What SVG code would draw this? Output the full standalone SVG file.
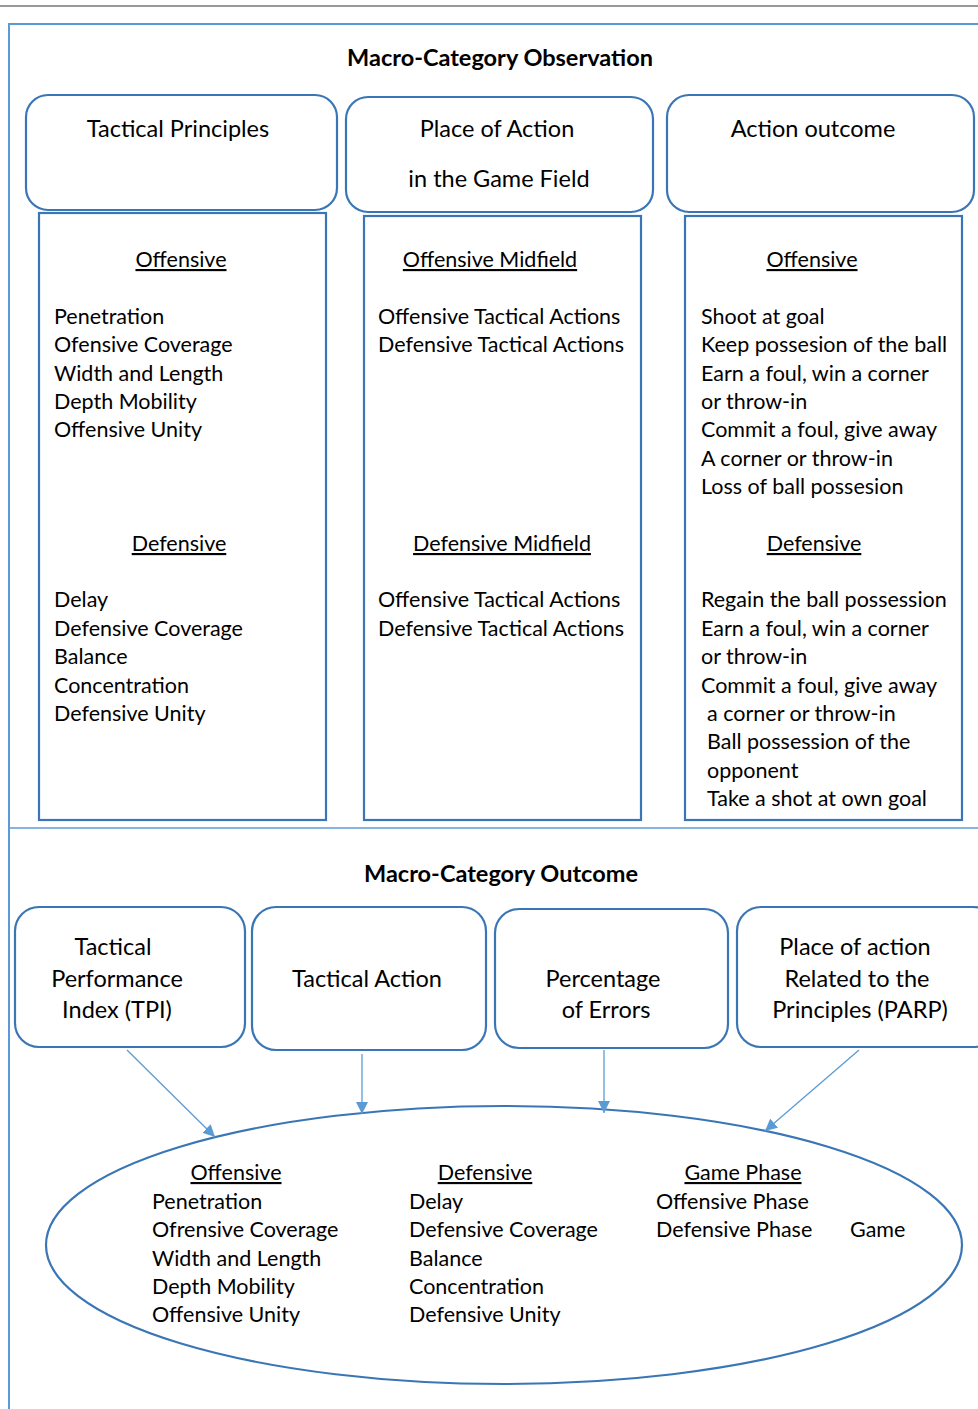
<svg xmlns="http://www.w3.org/2000/svg" width="978" height="1409" viewBox="0 0 978 1409">
<style>
.t{font-family:Lato,"Carlito","Liberation Sans",sans-serif;font-size:21.5px;fill:#000}
.h{font-family:Lato,"Carlito","Liberation Sans",sans-serif;font-size:23.5px;fill:#000}
.b{font-family:Lato,"Carlito","Liberation Sans",sans-serif;font-size:23.5px;font-weight:bold;fill:#000}
.u{text-decoration:underline}
.rb{fill:#fff;stroke:#3A76B5;stroke-width:2.2}
.frame{fill:none;stroke:#5B9BD5;stroke-width:2}
.conn{stroke:#5B9BD5;stroke-width:1.3;fill:none}
</style>
<defs>
<marker id="ah" viewBox="0 0 10 10" refX="10" refY="5" markerWidth="12" markerHeight="12" markerUnits="userSpaceOnUse" orient="auto">
<path d="M0,0 L10,5 L0,10 z" fill="#5B9BD5"/>
</marker>
</defs>
<rect width="978" height="1409" fill="#fff"/>
<line x1="0" y1="6" x2="978" y2="6" stroke="#333" stroke-width="1"/>
<path class="frame" d="M978,24 H9 V1409"/>
<line x1="9" y1="828" x2="978" y2="828" stroke="#5B9BD5" stroke-width="1.3"/>

<text class="b" x="500" y="66" text-anchor="middle">Macro-Category Observation</text>
<text class="b" x="501" y="882" text-anchor="middle">Macro-Category Outcome</text>

<g id="tactical-principles">
<rect class="rb" x="26" y="95" width="311" height="115" rx="22"/>
<text class="h" x="178" y="137" text-anchor="middle">Tactical Principles</text>
</g>
<g id="place-of-action">
<rect class="rb" x="346" y="97" width="307" height="115" rx="22"/>
<text class="h" x="497" y="137" text-anchor="middle">Place of Action</text>
<text class="h" x="499" y="187" text-anchor="middle">in the Game Field</text>
</g>
<g id="action-outcome">
<rect class="rb" x="667" y="95" width="307" height="117" rx="22"/>
<text class="h" x="813" y="137" text-anchor="middle">Action outcome</text>
</g>

<g id="principles-list">
<rect class="rb" x="39" y="213" width="287" height="607"/>
<text class="t u" x="181" y="267" text-anchor="middle">Offensive</text>
<text class="t" x="54" y="324">Penetration</text>
<text class="t" x="54" y="352">Ofensive Coverage</text>
<text class="t" x="54" y="381">Width and Length</text>
<text class="t" x="54" y="409">Depth Mobility</text>
<text class="t" x="54" y="437">Offensive Unity</text>
<text class="t u" x="179" y="551" text-anchor="middle">Defensive</text>
<text class="t" x="54" y="607">Delay</text>
<text class="t" x="54" y="636">Defensive Coverage</text>
<text class="t" x="54" y="664">Balance</text>
<text class="t" x="54" y="693">Concentration</text>
<text class="t" x="54" y="721">Defensive Unity</text>
</g>

<g id="place-list">
<rect class="rb" x="364" y="216" width="277" height="604"/>
<text class="t u" x="490" y="267" text-anchor="middle">Offensive Midfield</text>
<text class="t" x="378" y="324">Offensive Tactical Actions</text>
<text class="t" x="378" y="352">Defensive Tactical Actions</text>
<text class="t u" x="502" y="551" text-anchor="middle">Defensive Midfield</text>
<text class="t" x="378" y="607">Offensive Tactical Actions</text>
<text class="t" x="378" y="636">Defensive Tactical Actions</text>
</g>

<g id="outcome-list">
<rect class="rb" x="685" y="216" width="277" height="604"/>
<text class="t u" x="812" y="267" text-anchor="middle">Offensive</text>
<text class="t" x="701" y="324">Shoot at goal</text>
<text class="t" x="701" y="352">Keep possesion of the ball</text>
<text class="t" x="701" y="381">Earn a foul, win a corner</text>
<text class="t" x="701" y="409">or throw-in</text>
<text class="t" x="701" y="437">Commit a foul, give away</text>
<text class="t" x="701" y="466">A corner or throw-in</text>
<text class="t" x="701" y="494">Loss of ball possesion</text>
<text class="t u" x="814" y="551" text-anchor="middle">Defensive</text>
<text class="t" x="701" y="607">Regain the ball possession</text>
<text class="t" x="701" y="636">Earn a foul, win a corner</text>
<text class="t" x="701" y="664">or throw-in</text>
<text class="t" x="701" y="693">Commit a foul, give away</text>
<text class="t" x="707" y="721">a corner or throw-in</text>
<text class="t" x="707" y="749">Ball possession of the</text>
<text class="t" x="707" y="778">opponent</text>
<text class="t" x="707" y="806">Take a shot at own goal</text>
</g>

<g id="tpi">
<rect class="rb" x="15" y="907" width="230" height="140" rx="24"/>
<text class="h" x="113" y="955" text-anchor="middle">Tactical</text>
<text class="h" x="117" y="987" text-anchor="middle">Performance</text>
<text class="h" x="117" y="1018" text-anchor="middle">Index (TPI)</text>
</g>
<g id="tactical-action">
<rect class="rb" x="252" y="907" width="234" height="143" rx="24"/>
<text class="h" x="367" y="987" text-anchor="middle">Tactical Action</text>
</g>
<g id="percentage-errors">
<rect class="rb" x="495" y="909" width="233" height="139" rx="24"/>
<text class="h" x="603" y="987" text-anchor="middle">Percentage</text>
<text class="h" x="606" y="1018" text-anchor="middle">of Errors</text>
</g>
<g id="parp">
<rect class="rb" x="737" y="907" width="260" height="140" rx="24"/>
<text class="h" x="855" y="955" text-anchor="middle">Place of action</text>
<text class="h" x="857" y="987" text-anchor="middle">Related to the</text>
<text class="h" x="860" y="1018" text-anchor="middle">Principles (PARP)</text>
</g>

<g id="outcome-ellipse">
<ellipse cx="504" cy="1245" rx="458" ry="139" fill="none" stroke="#3A76B5" stroke-width="2.2"/>
<text class="t u" x="236" y="1180" text-anchor="middle">Offensive</text>
<text class="t" x="152" y="1209">Penetration</text>
<text class="t" x="152" y="1237">Ofrensive Coverage</text>
<text class="t" x="152" y="1266">Width and Length</text>
<text class="t" x="152" y="1294">Depth Mobility</text>
<text class="t" x="152" y="1322">Offensive Unity</text>
<text class="t u" x="485" y="1180" text-anchor="middle">Defensive</text>
<text class="t" x="409" y="1209">Delay</text>
<text class="t" x="409" y="1237">Defensive Coverage</text>
<text class="t" x="409" y="1266">Balance</text>
<text class="t" x="409" y="1294">Concentration</text>
<text class="t" x="409" y="1322">Defensive Unity</text>
<text class="t u" x="743" y="1180" text-anchor="middle">Game Phase</text>
<text class="t" x="656" y="1209">Offensive Phase</text>
<text class="t" x="656" y="1237">Defensive Phase</text>
<text class="t" x="850" y="1237">Game</text>
</g>

<g id="connectors">
<line class="conn" x1="127" y1="1050" x2="215" y2="1137" marker-end="url(#ah)"/>
<line class="conn" x1="362" y1="1054" x2="362" y2="1114" marker-end="url(#ah)"/>
<line class="conn" x1="604" y1="1050" x2="604" y2="1113" marker-end="url(#ah)"/>
<line class="conn" x1="859" y1="1050" x2="765" y2="1131" marker-end="url(#ah)"/>
</g>
</svg>
